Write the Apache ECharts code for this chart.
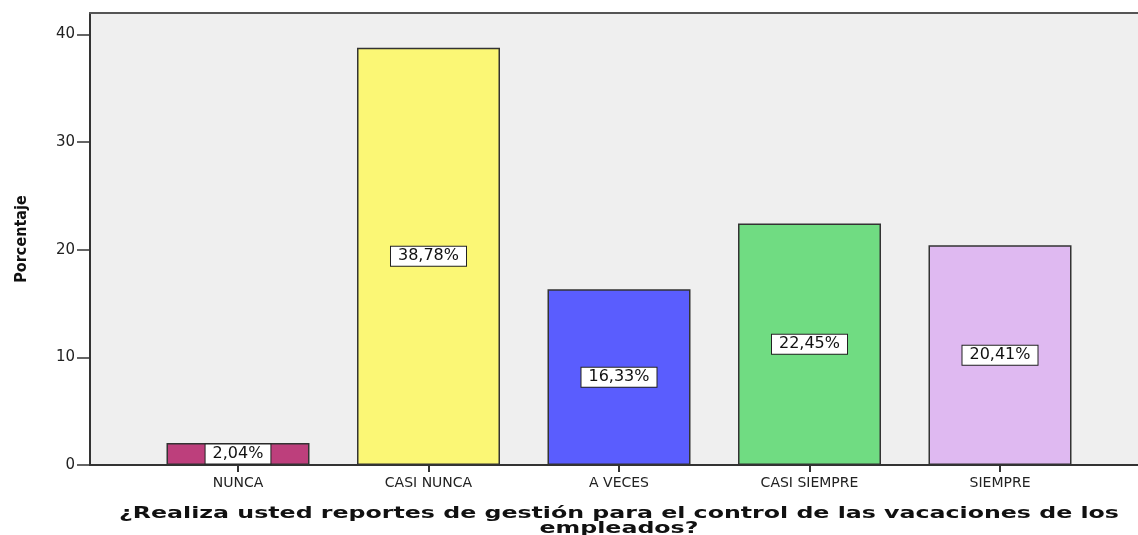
<!doctype html>
<html lang="es">
<head>
    <meta charset="UTF-8">
    <title>Reportes de gestión</title>
    <script src="https://cdn.jsdelivr.net/npm/echarts@6/dist/echarts.min.js"></script>
    <style>
        html, body { margin: 0; padding: 0; background: #fff; }
    </style>
</head>
<body>
    <div id="main" style="width: 1138px;height:535px;"></div>
    <script>
        var categorias = ['NUNCA', 'CASI NUNCA', 'A VECES', 'CASI SIEMPRE', 'SIEMPRE'];
        var porcentajes = [2.04, 38.78, 16.33, 22.45, 20.41];
        var colores = ['#bd3f7c', '#fbf775', '#5a5dfe', '#70dc82', '#dfb9f1'];
        var marcasY = [0, 10, 20, 30, 40];
        var tituloX = '¿Realiza usted reportes de gestión para el control de las vacaciones de los\nempleados?';

        // categories sit on 1..5 of a value axis so the bands can be placed like the original
        var datos = porcentajes.map(function (v, i) {
            return {
                value: [i + 1, v],
                itemStyle: { color: colores[i] }
            };
        });

        var xMin = 1 - 148 / 190.5;
        var xMax = xMin + 1048 / 190.5;

        var myChart = echarts.init(document.getElementById('main'));
        myChart.setOption({
            backgroundColor: '#ffffff',
            animation: false,
            grid: {
                left: 90,
                top: 13,
                width: 1048,
                height: 452,
                show: true,
                backgroundColor: '#efefef',
                borderWidth: 0
            },
            xAxis: [{
                type: 'value',
                min: xMin,
                max: xMax,
                splitLine: { show: false },
                axisLine: { show: true, lineStyle: { color: '#333', width: 2 } },
                axisTick: {
                    show: true,
                    length: 7,
                    customValues: [1, 2, 3, 4, 5],
                    lineStyle: { color: '#333', width: 2 }
                },
                axisLabel: {
                    customValues: [1, 2, 3, 4, 5],
                    margin: 11,
                    color: '#222',
                    fontFamily: 'DejaVu Sans',
                    fontSize: 14,
                    formatter: function (v) { return categorias[Math.round(v) - 1] || ''; }
                }
            }, {
                // top frame line only
                type: 'value',
                position: 'top',
                min: xMin,
                max: xMax,
                splitLine: { show: false },
                axisTick: { show: false },
                axisLabel: { show: false },
                axisLine: { show: true, lineStyle: { color: '#555', width: 2 } }
            }],
            yAxis: {
                type: 'value',
                min: 0,
                max: 42,
                name: 'Porcentaje',
                nameLocation: 'middle',
                nameGap: 60,
                nameRotate: 90,
                nameTextStyle: {
                    fontFamily: 'DejaVu Sans Condensed',
                    fontWeight: 'bold',
                    fontSize: 16,
                    color: '#111'
                },
                splitLine: { show: false },
                axisLine: { show: true, lineStyle: { color: '#333', width: 2 } },
                axisTick: {
                    show: true,
                    length: 13,
                    customValues: marcasY,
                    lineStyle: { color: '#333', width: 1.5 }
                },
                axisLabel: {
                    customValues: marcasY,
                    margin: 15,
                    color: '#222',
                    fontFamily: 'DejaVu Sans',
                    fontSize: 15
                }
            },
            series: [{
                type: 'bar',
                xAxisIndex: 0,
                barWidth: 143,
                data: datos,
                itemStyle: { borderColor: '#333', borderWidth: 1.5 },
                label: {
                    show: true,
                    position: 'inside',
                    color: '#111',
                    fontFamily: 'DejaVu Sans',
                    fontSize: 16,
                    backgroundColor: '#fff',
                    borderColor: '#222',
                    borderWidth: 1,
                    padding: [2, 7, 1, 7],
                    formatter: function (p) {
                        return p.value[1].toFixed(2).replace('.', ',') + '%';
                    }
                }
            }],
            graphic: [{
                type: 'text',
                x: 619,
                y: 521,
                scaleX: 1.48,
                style: {
                    text: tituloX,
                    x: 0,
                    y: 0,
                    align: 'center',
                    verticalAlign: 'middle',
                    lineHeight: 15,
                    font: 'bold 16px "DejaVu Sans"',
                    fill: '#111'
                }
            }]
        });
    </script>
</body>
</html>
